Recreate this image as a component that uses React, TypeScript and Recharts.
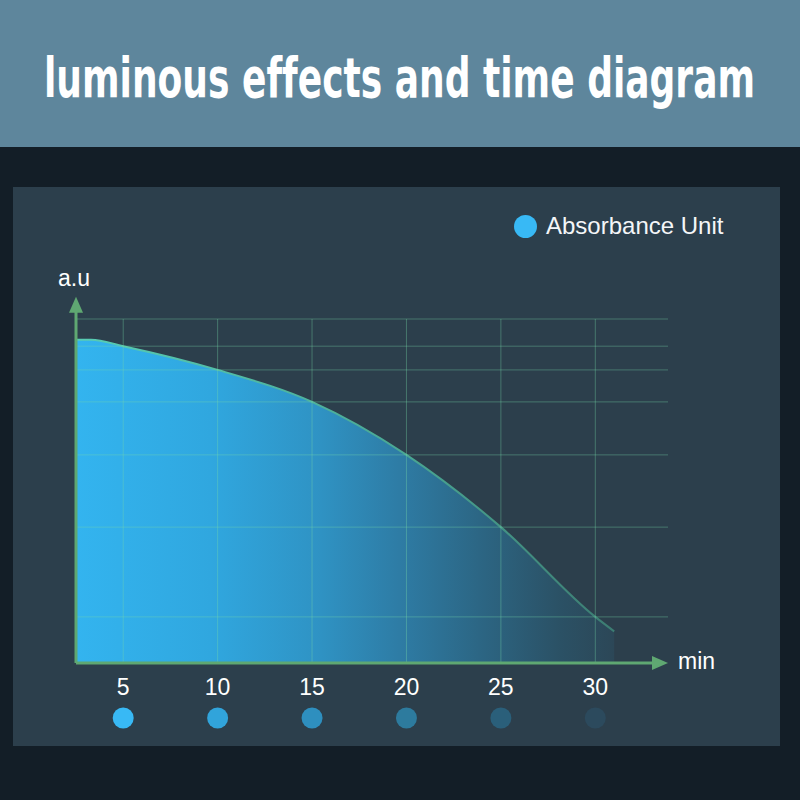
import React from 'react';
import { ComposedChart, Area, XAxis, YAxis, ReferenceLine, ReferenceDot } from 'recharts';

// time in minutes vs absorbance (a.u, 0-100 scale)
const times = [2.5, 3.3, 5, 10, 15, 20, 25, 30, 31];
const absorbance = [94, 94, 92.1, 85.2, 75.9, 60.5, 39.5, 13.4, 9.2];
const xTicks = [5, 10, 15, 20, 25, 30];
const tickDotColors = ['#38b9f5', '#31a4db', '#2e8fbf', '#2d7b9e', '#2a5f7a', '#2c4a5d'];
// horizontal guides sit on the curve values at every tick
const yGuides = [13.4, 39.5, 60.5, 75.9, 85.2, 92.1, 100];

const X_MIN = 2.5;
const X_MAX = 33.85;

const data = times.map((t, i) => ({ t, value: absorbance[i] }));

const GREEN = '#5fa872';
const GRID = '#78dcaa';
const FONT = 'Liberation Sans, Arial, sans-serif';

const TimeTick = (props: any) => {
    const { x, y, payload, index } = props;
    return (
        <g>
            <text x={x} y={y + 24} textAnchor="middle" fill="#ffffff" fontSize={23} fontFamily={FONT}>
                {payload.value}
            </text>
            <circle cx={x} cy={y + 47} r={10.5} fill={tickDotColors[index % tickDotColors.length]} />
        </g>
    );
};

const ArrowRight = (props: any) => {
    const { cx, cy } = props;
    return <polygon points={`${cx},${cy} ${cx - 16},${cy - 7} ${cx - 16},${cy + 7}`} fill={GREEN} />;
};

const ArrowUp = (props: any) => {
    const { cx, cy } = props;
    return <polygon points={`${cx},${cy} ${cx - 7},${cy + 16} ${cx + 7},${cy + 16}`} fill={GREEN} />;
};

export default function App() {
    return (
        <div style={{ position: 'absolute', left: 0, top: 0, width: 800, height: 800, background: '#131e27', overflow: 'hidden' }}>
            <div style={{ position: 'absolute', left: 0, top: 0, width: 800, height: 147, background: '#5e869c' }}>
                <svg width={800} height={147}>
                    <text
                        x={44}
                        y={97}
                        textLength={711}
                        lengthAdjust="spacingAndGlyphs"
                        fill="#ffffff"
                        fontSize={56}
                        fontWeight="bold"
                        fontFamily="DejaVu Sans Condensed, DejaVu Sans, sans-serif"
                        style={{ fontVariantLigatures: 'none' }}
                    >
                        luminous effects and time diagram
                    </text>
                </svg>
            </div>
            <div style={{ position: 'absolute', left: 13, top: 187, width: 767, height: 559, background: '#2c3f4c' }} />
            <div style={{ position: 'absolute', left: 0, top: 0 }}>
                <ComposedChart width={800} height={800} data={data} margin={{ top: 319, right: 132, bottom: 0, left: 76 }}>
                    <defs>
                        <linearGradient id="areaFill" x1="0" y1="0" x2="1" y2="0">
                            <stop offset="0%" stopColor="#33b4ef" />
                            <stop offset="25%" stopColor="#30a7df" />
                            <stop offset="45%" stopColor="#2f93c4" />
                            <stop offset="60%" stopColor="#2e7ca5" />
                            <stop offset="75%" stopColor="#2c6684" />
                            <stop offset="90%" stopColor="#2b5165" />
                            <stop offset="100%" stopColor="#2c4757" />
                        </linearGradient>
                        <linearGradient id="areaStroke" x1="0" y1="0" x2="1" y2="0">
                            <stop offset="0%" stopColor="#58cdb4" />
                            <stop offset="60%" stopColor="#4aa894" />
                            <stop offset="100%" stopColor="#3c7c72" />
                        </linearGradient>
                    </defs>
                    <XAxis
                        dataKey="t"
                        type="number"
                        domain={[X_MIN, X_MAX]}
                        ticks={xTicks}
                        axisLine={false}
                        tickLine={false}
                        tick={<TimeTick />}
                        interval={0}
                        height={137}
                    />
                    <YAxis type="number" domain={[0, 100]} ticks={yGuides} axisLine={false} tickLine={false} tick={false} width={0} />
                    <Area
                        type="monotone"
                        dataKey="value"
                        fill="url(#areaFill)"
                        fillOpacity={1}
                        stroke="url(#areaStroke)"
                        strokeWidth={2}
                        isAnimationActive={false}
                        dot={false}
                        activeDot={false}
                    />
                    {yGuides.map((v) => (
                        <ReferenceLine key={`h${v}`} y={v} stroke={GRID} strokeOpacity={0.36} strokeWidth={1} />
                    ))}
                    {xTicks.map((v) => (
                        <ReferenceLine key={`v${v}`} x={v} stroke={GRID} strokeOpacity={0.36} strokeWidth={1} />
                    ))}
                    <ReferenceLine segment={[{ x: X_MIN, y: 0 }, { x: 33.1, y: 0 }]} stroke={GREEN} strokeWidth={3} ifOverflow="visible" />
                    <ReferenceLine segment={[{ x: X_MIN, y: 0 }, { x: X_MIN, y: 102 }]} stroke={GREEN} strokeWidth={3} ifOverflow="visible" />
                    <ReferenceDot x={X_MAX} y={0} ifOverflow="visible" shape={<ArrowRight />} />
                    <ReferenceDot x={X_MIN} y={106.5} ifOverflow="visible" shape={<ArrowUp />} />
                </ComposedChart>
            </div>
            <div style={{ position: 'absolute', left: 514, top: 212, display: 'flex', alignItems: 'center', fontFamily: FONT, fontSize: 24, color: '#f4f6f8' }}>
                <span style={{ width: 23, height: 23, borderRadius: 12, background: '#38b9f5', display: 'inline-block', marginRight: 9 }} />
                Absorbance Unit
            </div>
            <div style={{ position: 'absolute', left: 58, top: 265, color: '#ffffff', fontSize: 23, fontFamily: FONT }}>a.u</div>
            <div style={{ position: 'absolute', left: 678, top: 648, color: '#ffffff', fontSize: 23, fontFamily: FONT }}>min</div>
        </div>
    );
}
